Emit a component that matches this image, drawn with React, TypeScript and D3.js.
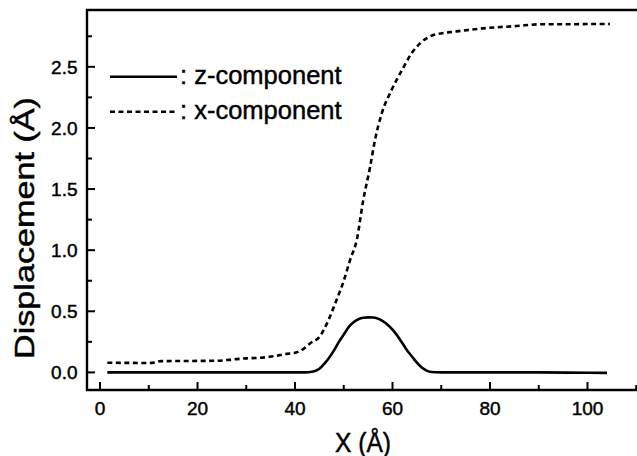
import React, { useEffect, useRef } from 'react';
import * as d3 from 'd3';

// z-component (solid)
const zX = [1.5, 10, 20, 30, 40, 42, 43.5, 45, 46, 47, 48, 49, 50, 51, 52, 53, 54, 55, 56, 57, 58, 59, 60, 61, 62, 63, 64, 65, 66, 67, 68, 70, 80, 90, 100, 104];
const zY = [0, 0, 0, 0, 0, 0, 0.005, 0.03, 0.07, 0.12, 0.18, 0.25, 0.31, 0.37, 0.41, 0.435, 0.447, 0.45, 0.449, 0.44, 0.42, 0.39, 0.35, 0.3, 0.24, 0.18, 0.13, 0.08, 0.04, 0.015, 0.003, 0, 0, 0, -0.003, -0.004];

// x-component (dashed)
const xX = [1.5, 5, 10, 11, 12.5, 15, 20, 24, 27, 30, 33, 36, 38, 40, 42, 43, 45, 47, 48.5, 50, 51.3, 52.7, 54, 55.4, 56.4, 57.8, 59.8, 61.9, 63.9, 65.6, 68.4, 73.2, 78.6, 85.5, 90.3, 95, 100, 104.6];
const xY = [0.079, 0.078, 0.077, 0.08, 0.092, 0.093, 0.094, 0.095, 0.105, 0.115, 0.12, 0.135, 0.15, 0.16, 0.2, 0.235, 0.29, 0.44, 0.59, 0.75, 0.92, 1.09, 1.41, 1.68, 1.9, 2.12, 2.31, 2.47, 2.61, 2.69, 2.76, 2.79, 2.815, 2.834, 2.848, 2.848, 2.85, 2.85];

const xTicks = [0, 20, 40, 60, 80, 100];
const xMinor = [10, 30, 50, 70, 90, 110];
const yTicks = [0, 0.5, 1.0, 1.5, 2.0, 2.5];
const yMinor = [0.25, 0.75, 1.25, 1.75, 2.25, 2.75];

const legendLabels = [': z-component', ': x-component'];

const W = 637;
const H = 456;
const FONT = '"Liberation Sans", Arial, Helvetica, sans-serif';

const App = () => {
  const ref = useRef<SVGSVGElement>(null);

  useEffect(() => {
    document.body.style.margin = '0';
    const svg = d3.select(ref.current);
    svg.selectAll('*').remove();

    const left = 87, right = 640, top = 10, bottom = 390;

    const x = d3.scaleLinear().domain([-2.67, 110.77]).range([left, right]);
    const y = d3.scaleLinear().domain([-0.144, 2.965]).range([bottom, top]);

    const line = d3.line<[number, number]>()
      .x(d => x(d[0]))
      .y(d => y(d[1]))
      .curve(d3.curveMonotoneX);

    const zData: [number, number][] = zX.map((v, i) => [v, zY[i]]);
    const xData: [number, number][] = xX.map((v, i) => [v, xY[i]]);

    svg.append('path')
      .attr('d', line(zData))
      .attr('fill', 'none')
      .attr('stroke', '#000')
      .attr('stroke-width', 2.6);

    svg.append('path')
      .attr('d', line(xData))
      .attr('fill', 'none')
      .attr('stroke', '#000')
      .attr('stroke-width', 2.6)
      .attr('stroke-dasharray', '5,3.5');

    // frame: left, bottom, top
    const frame = svg.append('g').attr('stroke', '#000').attr('stroke-width', 2.4);
    frame.append('line').attr('x1', left).attr('x2', left).attr('y1', top - 1).attr('y2', bottom + 1);
    frame.append('line').attr('x1', left - 1).attr('x2', right).attr('y1', bottom).attr('y2', bottom);
    frame.append('line').attr('x1', left - 1).attr('x2', right).attr('y1', top).attr('y2', top);

    // ticks (inward)
    const ticks = svg.append('g').attr('stroke', '#000').attr('stroke-width', 2);
    xTicks.forEach(t => ticks.append('line').attr('x1', x(t)).attr('x2', x(t)).attr('y1', bottom).attr('y2', bottom - 8));
    xMinor.forEach(t => ticks.append('line').attr('x1', x(t)).attr('x2', x(t)).attr('y1', bottom).attr('y2', bottom - 5));
    yTicks.forEach(t => ticks.append('line').attr('x1', left).attr('x2', left + 8).attr('y1', y(t)).attr('y2', y(t)));
    yMinor.forEach(t => ticks.append('line').attr('x1', left).attr('x2', left + 5).attr('y1', y(t)).attr('y2', y(t)));

    const textStyle = (sel: any, size: string) =>
      sel.style('font-family', FONT)
        .style('font-size', size)
        .attr('fill', '#000')
        .attr('stroke', '#000')
        .attr('stroke-width', 0.45);

    // tick labels
    textStyle(svg.append('g').selectAll('text')
      .data(xTicks)
      .enter().append('text')
      .attr('x', d => x(d))
      .attr('y', 415)
      .attr('text-anchor', 'middle')
      .text(d => String(d)), '19px');

    textStyle(svg.append('g').selectAll('text')
      .data(yTicks)
      .enter().append('text')
      .attr('x', 77.5)
      .attr('y', d => y(d))
      .attr('dy', '0.36em')
      .attr('text-anchor', 'end')
      .text(d => d.toFixed(1)), '19px');

    // axis titles
    textStyle(svg.append('text')
      .attr('x', 363)
      .attr('y', 451.5)
      .attr('text-anchor', 'middle')
      .attr('textLength', 56)
      .attr('lengthAdjust', 'spacingAndGlyphs')
      .text('X (Å)'), '27px');

    textStyle(svg.append('text')
      .attr('transform', 'translate(33.5, 228) rotate(-90)')
      .attr('text-anchor', 'middle')
      .attr('textLength', 262)
      .attr('lengthAdjust', 'spacingAndGlyphs')
      .text('Displacement (Å)'), '28px');

    // legend
    const lg = svg.append('g');
    lg.append('line')
      .attr('x1', 110).attr('x2', 177).attr('y1', 76.7).attr('y2', 76.7)
      .attr('stroke', '#000').attr('stroke-width', 2.6);
    lg.append('line')
      .attr('x1', 110).attr('x2', 177).attr('y1', 111.7).attr('y2', 111.7)
      .attr('stroke', '#000').attr('stroke-width', 2.6)
      .attr('stroke-dasharray', '5,3.5');
    legendLabels.forEach((s, i) => {
      textStyle(lg.append('text')
        .attr('x', 180)
        .attr('y', 83.5 + i * 35)
        .text(s), '25.5px');
    });
  }, []);

  return <svg ref={ref} width={W} height={H} style={{ display: 'block', background: '#fff' }} />;
};

export default App;
